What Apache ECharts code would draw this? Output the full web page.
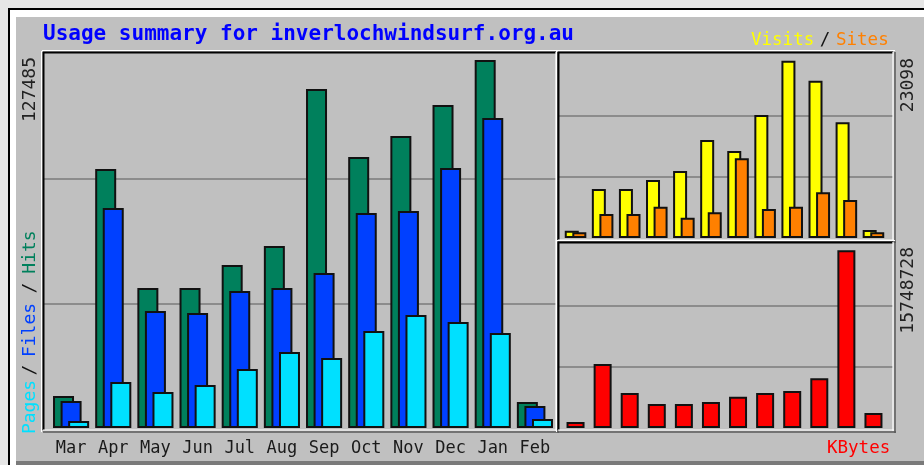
<!DOCTYPE html>
<html>
<head>
<meta charset="utf-8">
<script src="https://cdn.jsdelivr.net/npm/echarts@6/dist/echarts.min.js"></script>
<style>
  html, body { margin: 0; padding: 0; background: #e6e6e6; }
  #chart { width: 924px; height: 465px; }
</style>
</head>
<body>
<div id="chart"></div>
<script>
/* Webalizer-style usage summary — ECharts 6. */
const months = ['Mar','Apr','May','Jun','Jul','Aug','Sep','Oct','Nov','Dec','Jan','Feb'];
const hits   = [11085, 89718, 48496, 48496, 56463, 63045, 117430, 93874, 101149, 111887, 127485, 9006];
const files  = [9353, 76208, 40529, 39836, 47457, 48496, 53692, 74476, 75169, 90064, 107384, 7621];
const pages  = [2425, 15934, 12470, 14895, 20438, 26326, 24248, 33601, 39143, 36718, 32908, 3118];
const visits = [951, 6385, 6385, 7557, 8730, 12769, 11336, 16027, 23098, 20496, 15076, 1042];
const sites  = [743, 3127, 3127, 4078, 2645, 3349, 10385, 3779, 4078, 5955, 4951, 743];
const kbytes = [531750, 5672000, 3101875, 2127000, 2127000, 2304250, 2773963, 3101875, 3279125, 4404663, 15748728, 1329375];

const title = 'Usage summary for inverlochwindsurf.org.au';
const hitsMaxLabel = '127485', visitsMaxLabel = '23098', kbytesMaxLabel = '15748728';

// axis scales: top of each plot, split in three
const mainTop = 43187 * 3, visTop = 7992 * 3, kbTop = 5435667 * 3;

const C = { hits: '#00805c', files: '#0040ff', pages: '#00e0ff', visits: '#ffff00',
            sites: '#ff8000', kbytes: '#ff0000', bg: '#c0c0c0', grid: '#8c8c8c' };
const MONO = '"DejaVu Sans Mono", monospace';

const chart = echarts.init(document.getElementById('chart'), null, { renderer: 'canvas' });

const ln = (x1, y1, x2, y2, stroke, w) => ({ type: 'line', z: 50, silent: true,
  shape: { x1, y1, x2, y2 }, style: { stroke, lineWidth: w } });
const rc = (x, y, width, height, fill) => ({ type: 'rect', z: 40, silent: true,
  shape: { x, y, width, height }, style: { fill } });
function frame(x1, y1, x2, y2) {
  return [
    ln(x1 - 1, y1 - 1.5, x2 + 2, y1 - 1.5, '#ffffff', 1), ln(x1 - 1.5, y1 - 1, x1 - 1.5, y2 + 2, '#ffffff', 1),
    ln(x1, y1 + 0.5, x2, y1 + 0.5, '#000000', 2), ln(x1 + 0.5, y1, x1 + 0.5, y2, '#000000', 2),
    ln(x1, y2, x2 + 1, y2, '#ffffff', 1.2), ln(x2, y1, x2, y2 + 1, '#ffffff', 1.2),
    ln(x1, y2 + 2, x2 + 3, y2 + 2, '#5a5a5a', 1.5), ln(x2 + 2, y1, x2 + 2, y2 + 3, '#5a5a5a', 1.5)
  ];
}
const txt = (x, y, text, fill, font, align, valign, rot) => ({ type: 'text', z: 60, silent: true,
  x, y, rotation: rot || 0,
  style: { text, fill, font, textAlign: align || 'left', textVerticalAlign: valign || 'middle' } });

const R = Math.PI / 2;
const graphics = [
  rc(0, 0, 924, 8, '#e6e6e6'), rc(0, 0, 8, 465, '#e6e6e6'),
  rc(8, 8, 916, 2, '#000000'), rc(8, 8, 2, 457, '#000000'),
  rc(10, 10, 914, 7, '#ffffff'), rc(10, 10, 6, 455, '#ffffff'),
  rc(16, 461, 908, 4, '#7a7a7a'),
  ...frame(43, 52, 556, 430), ...frame(558, 52, 893, 240), ...frame(558, 242, 893, 430),
  txt(43, 35, title, '#0000ff', 'bold 21px ' + MONO),
  txt(751, 40, 'Visits', C.visits, '17.5px ' + MONO),
  txt(825, 40, '/', '#111', '17.5px ' + MONO, 'center'),
  txt(836, 40, 'Sites', C.sites, '17.5px ' + MONO),
  txt(827, 448, 'KBytes', C.kbytes, '17.5px ' + MONO),
  txt(30, 57, hitsMaxLabel, '#222', '18px ' + MONO, 'right', 'middle', R),
  txt(908, 58, visitsMaxLabel, '#222', '18px ' + MONO, 'right', 'middle', R),
  txt(908, 247, kbytesMaxLabel, '#222', '18px ' + MONO, 'right', 'middle', R),
  txt(30, 407, 'Pages', C.pages, '18px ' + MONO, 'center', 'middle', R),
  txt(30, 370, '/', '#111', '18px ' + MONO, 'center', 'middle', R),
  txt(30, 330, 'Files', C.files, '18px ' + MONO, 'center', 'middle', R),
  txt(30, 288, '/', '#111', '18px ' + MONO, 'center', 'middle', R),
  txt(30, 252, 'Hits', C.hits, '18px ' + MONO, 'center', 'middle', R)
];

const hidden = { axisLine: { show: false }, axisTick: { show: false }, axisLabel: { show: false } };
const catX = (gridIndex, labels) => ({ type: 'category', gridIndex, data: months, ...hidden,
  axisLabel: labels ? { show: true, color: '#1a1a1a', fontFamily: MONO, fontSize: 17, margin: 12 } : { show: false },
  splitLine: { show: false } });
const valY = (gridIndex, max, lines) => ({ type: 'value', gridIndex, min: 0, max, interval: max / 3, ...hidden,
  splitLine: { show: lines, showMinLine: false, showMaxLine: false, lineStyle: { color: C.grid, width: 2 } } });
const frameX = gridIndex => ({ type: 'value', gridIndex, min: 0, max: 1, show: false });

const bar = (name, data, color, xi, width, gap) => ({ name, type: 'bar', xAxisIndex: xi, yAxisIndex: xi,
  data, barWidth: width, barGap: gap, animation: false,
  itemStyle: { color, borderColor: '#111', borderWidth: 2 } });

chart.setOption({
  backgroundColor: C.bg,
  animation: false,
  grid: [
    { left: 50, width: 506, top: 54, height: 374 },     // hits/files/pages
    { left: 562, width: 325, top: 54, height: 184 },    // visits/sites
    { left: 562, width: 325, top: 244, height: 184 },   // kbytes
    { left: 43, width: 513, top: 54, height: 374 },     // grid lines across full frames
    { left: 558, width: 335, top: 54, height: 184 },
    { left: 558, width: 335, top: 244, height: 184 }
  ],
  xAxis: [catX(0, true), catX(1, false), catX(2, false), frameX(3), frameX(4), frameX(5)],
  yAxis: [valY(0, mainTop, false), valY(1, visTop, false), valY(2, kbTop, false),
          valY(3, mainTop, true), valY(4, visTop, true), valY(5, kbTop, true)],
  series: [
    bar('Hits', hits, C.hits, 0, 21, '-64%'),
    bar('Files', files, C.files, 0, 21, '-64%'),
    bar('Pages', pages, C.pages, 0, 21, '-64%'),
    bar('Visits', visits, C.visits, 1, 14, '-46%'),
    bar('Sites', sites, C.sites, 1, 14, '-46%'),
    bar('KBytes', kbytes, C.kbytes, 2, 18, '-46%')
  ],
  graphic: { elements: graphics }
});
</script>
</body>
</html>
